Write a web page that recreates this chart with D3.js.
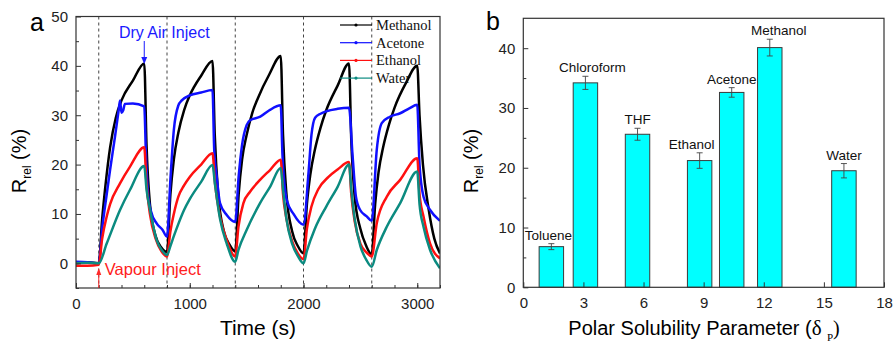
<!DOCTYPE html>
<html>
<head>
<meta charset="utf-8">
<script src="https://cdn.jsdelivr.net/npm/d3@7"></script>
<style>
  body { margin: 0; background: #fff; }
  svg { display: block; }
  .sans { font-family: "Liberation Sans", Arial, sans-serif; }
  .serif { font-family: "Liberation Serif", "Times New Roman", serif; }
</style>
</head>
<body>
<svg id="chart" width="893" height="342"></svg>
<script>
// ---- panel a data: [time (s), Rrel (%)]
const methanol = [
  [0, 0], [100, 0.2], [200, 0],
  [230, 9], [260, 16], [300, 23.5], [350, 29.5], [400, 33], [500, 37], [600, 40.5],
  [620, 24], [650, 12], [700, 5.5], [750, 3.2], [800, 2.3],
  [830, 14], [860, 21], [900, 26.5], [950, 31], [1000, 34], [1100, 38], [1200, 41],
  [1220, 26], [1250, 14], [1300, 6.5], [1350, 3.8], [1400, 2.4],
  [1430, 14], [1460, 21], [1500, 26], [1550, 30.5], [1600, 33.5], [1700, 38.3], [1800, 42],
  [1820, 26], [1850, 14], [1900, 6.5], [1950, 3.5], [2000, 2],
  [2030, 12], [2060, 18], [2100, 23], [2150, 27.5], [2200, 31], [2300, 36], [2400, 40.5],
  [2420, 25], [2450, 13.5], [2500, 7], [2550, 3.6], [2600, 1.8],
  [2630, 12], [2660, 18.5], [2700, 23.5], [2750, 28], [2800, 31.5], [2900, 36.5], [3000, 40],
  [3020, 30], [3050, 20], [3100, 11], [3150, 5], [3200, 2]
];
const acetone = [
  [0, 0.3], [100, 0.2], [200, 0],
  [230, 7], [270, 14], [300, 19], [343, 25.7], [375, 31], [387, 33], [400, 30.5], [415, 31], [430, 32.3], [500, 32.4], [600, 31.8],
  [615, 22], [636, 13.5], [660, 10.5], [709, 8.1], [760, 6.8], [800, 5.4],
  [830, 17], [860, 27], [900, 32], [930, 33], [1000, 34], [1100, 34.6], [1200, 35.1],
  [1215, 23], [1237, 17.6], [1266, 12.2], [1325, 9.8], [1400, 8.4],
  [1430, 17.6], [1460, 24], [1500, 28], [1530, 29], [1620, 29.7], [1700, 31], [1800, 32],
  [1815, 22], [1853, 12.8], [1912, 10], [2000, 7.8],
  [2043, 18], [2070, 26], [2102, 29.5], [2150, 30.3], [2200, 30.8], [2300, 31.3], [2400, 31.5],
  [2432, 21.6], [2461, 13.5], [2498, 10.8], [2556, 9.5], [2600, 8.6],
  [2644, 23], [2688, 28.4], [2760, 29.7], [2850, 30.4], [2930, 31.4], [3000, 32.1],
  [3020, 20], [3055, 13.5], [3113, 10.8], [3200, 8.6]
];
const ethanol = [
  [0, -0.5], [100, -0.5], [200, -0.3],
  [230, 5], [270, 9.5], [300, 12], [387, 16.2], [475, 19.6], [600, 23.5],
  [620, 16], [650, 10], [700, 5], [750, 2.5], [800, 1.4],
  [830, 6.5], [860, 10], [900, 13.5], [950, 15.8], [1000, 17.5], [1100, 20], [1200, 22.3],
  [1222, 16.2], [1266, 9.5], [1325, 4.7], [1400, 1.4],
  [1428, 7.4], [1472, 12.2], [1530, 14.5], [1618, 16.9], [1706, 18.9], [1800, 21],
  [1820, 14], [1850, 9], [1900, 4.5], [1950, 2], [2000, 0.8],
  [2030, 7], [2070, 11.5], [2130, 15], [2220, 17.5], [2300, 19], [2400, 20.5],
  [2420, 14], [2450, 8.5], [2500, 4], [2550, 2.3], [2600, 1.4],
  [2644, 8.1], [2732, 13.5], [2850, 16.9], [3000, 21.3],
  [3020, 14], [3055, 9.5], [3113, 4], [3200, 1]
];
const water = [
  [0, 0], [100, 0.1], [200, 0],
  [270, 4], [387, 10.8], [475, 14.9], [600, 19.7],
  [620, 15], [651, 10.8], [709, 4.7], [760, 2.5], [800, 1.7],
  [830, 3.5], [860, 5.5], [900, 8], [950, 10.8], [1000, 13], [1100, 16.5], [1200, 19.9],
  [1222, 16], [1266, 9], [1325, 4], [1400, 0.3],
  [1428, 2.7], [1501, 6.8], [1618, 12.2], [1706, 15.5], [1800, 19.3],
  [1820, 15], [1850, 9], [1900, 4], [1950, 1.5], [2000, 0],
  [2030, 2.5], [2100, 7], [2200, 11.5], [2300, 15.5], [2400, 20],
  [2420, 15], [2450, 9], [2500, 3.5], [2550, 0.8], [2600, -0.7],
  [2644, 2.7], [2732, 7.4], [2850, 12.2], [3000, 18.6],
  [3020, 12], [3055, 7.4], [3113, 2.7], [3200, -1]
];
const vapourTimes = [200, 800, 1400, 2000, 2600];

// ---- panel b data
const solvents = ['Toluene', 'Chloroform', 'THF', 'Ethanol', 'Acetone', 'Methanol', 'Water'];
const deltaP = [1.4, 3.1, 5.7, 8.8, 10.4, 12.3, 16.0];
const response = [6.8, 34.2, 25.6, 21.2, 32.6, 40.1, 19.5];
const responseErr = [0.5, 1.1, 1.0, 1.3, 0.8, 1.4, 1.2];

// label nudges (px) so names sit like the original
const labelDx = [-3, 7, 0, -8, 0, 9, 0];

const svg = d3.select('#chart');
const axisColor = '#333';

// =============== panel a ===============
const xa = d3.scaleLinear().domain([0, 3200]).range([76, 440]);
const ya = d3.scaleLinear().domain([-5, 50]).range([288, 16.5]);

const pa = svg.append('g');

pa.append('clipPath').attr('id', 'clipA')
  .append('rect')
  .attr('x', xa.range()[0]).attr('y', ya.range()[1])
  .attr('width', xa.range()[1] - xa.range()[0])
  .attr('height', ya.range()[0] - ya.range()[1]);

// dashed injection lines
pa.selectAll('line.inject')
  .data(vapourTimes)
  .enter()
  .append('line')
  .attr('class', 'inject')
  .attr('x1', d => xa(d)).attr('x2', d => xa(d))
  .attr('y1', ya.range()[1]).attr('y2', ya.range()[0])
  .attr('stroke', '#444')
  .attr('stroke-width', 1)
  .attr('stroke-dasharray', '3,3');

const series = [
  {name: 'Methanol', color: '#000000', data: methanol},
  {name: 'Acetone', color: '#1010ff', data: acetone},
  {name: 'Ethanol', color: '#ff1010', data: ethanol},
  {name: 'Water', color: '#0b8b80', data: water}
];

const line = d3.line()
  .x(d => xa(d[0]))
  .y(d => ya(d[1]))
  .curve(d3.curveMonotoneX);

pa.append('g').attr('clip-path', 'url(#clipA)')
  .selectAll('path.series')
  .data(series)
  .enter()
  .append('path')
  .attr('class', 'series')
  .attr('d', d => line(d.data))
  .attr('fill', 'none')
  .attr('stroke', d => d.color)
  .attr('stroke-width', 2.5)
  .attr('stroke-linejoin', 'round');

// frame
pa.append('rect')
  .attr('x', xa.range()[0]).attr('y', ya.range()[1])
  .attr('width', xa.range()[1] - xa.range()[0])
  .attr('height', ya.range()[0] - ya.range()[1])
  .attr('fill', 'none').attr('stroke', axisColor).attr('stroke-width', 1.2);

// axes (ticks inward)
pa.append('g')
  .attr('class', 'sans')
  .attr('transform', 'translate(0,' + ya.range()[0] + ')')
  .call(d3.axisBottom(xa).tickValues([0, 1000, 2000, 3000]).tickFormat(d3.format('d'))
    .tickSizeInner(-5).tickSizeOuter(0).tickPadding(10));
pa.append('g')
  .attr('transform', 'translate(0,' + ya.range()[0] + ')')
  .call(d3.axisBottom(xa).tickValues(d3.range(0, 3201, 200)).tickSizeInner(-3).tickSizeOuter(0).tickFormat(''));
pa.append('g')
  .attr('class', 'sans')
  .attr('transform', 'translate(' + xa.range()[0] + ',0)')
  .call(d3.axisLeft(ya).tickValues([0, 10, 20, 30, 40, 50]).tickSizeInner(-5).tickSizeOuter(0).tickPadding(8));
pa.append('g')
  .attr('transform', 'translate(' + xa.range()[0] + ',0)')
  .call(d3.axisLeft(ya).tickValues([-5, 5, 15, 25, 35, 45]).tickSizeInner(-3).tickSizeOuter(0).tickFormat(''));

// legend
const legA = pa.append('g');
const legItem = legA.selectAll('g.leg')
  .data(series)
  .enter()
  .append('g')
  .attr('class', 'leg')
  .attr('transform', (d, i) => 'translate(340,' + (25 + i * 17.7) + ')');
legItem.append('line')
  .attr('x1', 0).attr('x2', 32).attr('y1', 0).attr('y2', 0)
  .attr('stroke', d => d.color).attr('stroke-width', 1.2);
legItem.append('circle')
  .attr('cx', 16).attr('cy', 0).attr('r', 1.6)
  .attr('fill', d => d.color);
legItem.append('text')
  .attr('class', 'serif')
  .attr('x', 36).attr('y', 5)
  .attr('font-size', 14.5)
  .attr('fill', '#111')
  .text(d => d.name);

// annotations
const dryX = xa(600);
pa.append('text')
  .attr('class', 'sans')
  .attr('x', dryX + 20).attr('y', 38)
  .attr('text-anchor', 'middle')
  .attr('font-size', 16)
  .attr('fill', '#1a1aff')
  .text('Dry Air Inject');
pa.append('line')
  .attr('x1', dryX).attr('x2', dryX).attr('y1', 41).attr('y2', 58)
  .attr('stroke', '#1a1aff').attr('stroke-width', 1);
pa.append('path')
  .attr('d', `M${dryX - 3},57 L${dryX + 3},57 L${dryX},64 Z`)
  .attr('fill', '#1a1aff');

const vapX = xa(200);
pa.append('line')
  .attr('x1', vapX).attr('x2', vapX).attr('y1', ya.range()[0]).attr('y2', 274)
  .attr('stroke', '#ff2a2a').attr('stroke-width', 1);
pa.append('path')
  .attr('d', `M${vapX - 2.5},275 L${vapX + 2.5},275 L${vapX},268 Z`)
  .attr('fill', '#ff2a2a');
pa.append('text')
  .attr('class', 'sans')
  .attr('x', vapX + 6).attr('y', 275)
  .attr('font-size', 16.5)
  .attr('fill', '#ff2020')
  .text('Vapour Inject');

// titles
pa.append('text')
  .attr('class', 'sans')
  .attr('x', xa(1600)).attr('y', 335)
  .attr('text-anchor', 'middle')
  .attr('font-size', 21)
  .text('Time (s)');

const yTitleA = pa.append('text')
  .attr('class', 'sans')
  .attr('transform', 'translate(26,161) rotate(-90)')
  .attr('text-anchor', 'middle')
  .attr('font-size', 20);
yTitleA.append('tspan').text('R');
yTitleA.append('tspan').attr('font-size', 12).attr('dy', 5).text('rel');
yTitleA.append('tspan').attr('dy', -5).text(' (%)');

pa.append('text')
  .attr('class', 'sans')
  .attr('x', 30).attr('y', 31)
  .attr('font-size', 25)
  .text('a');

// =============== panel b ===============
const xb = d3.scaleLinear().domain([0, 18]).range([523.3, 884]);
const yb = d3.scaleLinear().domain([0, 45]).range([287.3, 18.3]);
const barW = xb(1.22) - xb(0);

const pb = svg.append('g');

const bars = solvents.map((s, i) => ({name: s, x: deltaP[i], v: response[i], e: responseErr[i], dx: labelDx[i]}));

pb.selectAll('rect.bar')
  .data(bars)
  .enter()
  .append('rect')
  .attr('class', 'bar')
  .attr('x', d => xb(d.x) - barW / 2)
  .attr('width', barW)
  .attr('y', d => yb(d.v))
  .attr('height', d => yb(0) - yb(d.v))
  .attr('fill', '#00ffff')
  .attr('stroke', '#3a3a3a')
  .attr('stroke-width', 1);

// error bars
const err = pb.selectAll('g.err')
  .data(bars)
  .enter()
  .append('g')
  .attr('class', 'err')
  .attr('stroke', '#444')
  .attr('stroke-width', 0.9);
err.append('line')
  .attr('x1', d => xb(d.x)).attr('x2', d => xb(d.x))
  .attr('y1', d => yb(d.v - d.e)).attr('y2', d => yb(d.v + d.e));
err.append('line')
  .attr('x1', d => xb(d.x) - 3).attr('x2', d => xb(d.x) + 3)
  .attr('y1', d => yb(d.v + d.e)).attr('y2', d => yb(d.v + d.e));
err.append('line')
  .attr('x1', d => xb(d.x) - 3).attr('x2', d => xb(d.x) + 3)
  .attr('y1', d => yb(d.v - d.e)).attr('y2', d => yb(d.v - d.e));

// bar labels
pb.selectAll('text.lab')
  .data(bars)
  .enter()
  .append('text')
  .attr('class', 'lab sans')
  .attr('x', d => xb(d.x) + d.dx)
  .attr('y', d => yb(d.v + d.e) - 4)
  .attr('text-anchor', 'middle')
  .attr('font-size', 13.5)
  .attr('fill', '#111')
  .text(d => d.name);

// frame
pb.append('rect')
  .attr('x', xb.range()[0]).attr('y', yb.range()[1])
  .attr('width', xb.range()[1] - xb.range()[0])
  .attr('height', yb.range()[0] - yb.range()[1])
  .attr('fill', 'none').attr('stroke', axisColor).attr('stroke-width', 1.2);

pb.append('g')
  .attr('class', 'sans')
  .attr('transform', 'translate(0,' + yb.range()[0] + ')')
  .call(d3.axisBottom(xb).tickValues([0, 3, 6, 9, 12, 15, 18]).tickSizeInner(-5).tickSizeOuter(0).tickPadding(10));
pb.append('g')
  .attr('class', 'sans')
  .attr('transform', 'translate(' + xb.range()[0] + ',0)')
  .call(d3.axisLeft(yb).tickValues([0, 10, 20, 30, 40]).tickSizeInner(-5).tickSizeOuter(0).tickPadding(8));
pb.append('g')
  .attr('transform', 'translate(' + xb.range()[0] + ',0)')
  .call(d3.axisLeft(yb).tickValues([5, 15, 25, 35]).tickSizeInner(-3).tickSizeOuter(0).tickFormat(''));

const xTitleB = pb.append('text')
  .attr('x', 704).attr('y', 335)
  .attr('text-anchor', 'middle')
  .attr('font-size', 20);
xTitleB.append('tspan').attr('class', 'sans').text('Polar Solubility Parameter (');
xTitleB.append('tspan').attr('class', 'serif').attr('font-size', 21).text('\u03b4  ');
xTitleB.append('tspan').attr('class', 'serif').attr('font-size', 11).attr('dy', 6).text('P');
xTitleB.append('tspan').attr('class', 'serif').attr('dy', -6).text(')');

const yTitleB = pb.append('text')
  .attr('class', 'sans')
  .attr('transform', 'translate(478,161) rotate(-90)')
  .attr('text-anchor', 'middle')
  .attr('font-size', 20);
yTitleB.append('tspan').text('R');
yTitleB.append('tspan').attr('font-size', 12).attr('dy', 5).text('rel');
yTitleB.append('tspan').attr('dy', -5).text(' (%)');

pb.append('text')
  .attr('class', 'sans')
  .attr('x', 486).attr('y', 30)
  .attr('font-size', 25)
  .text('b');

// shared axis styling
svg.selectAll('.domain').remove();
svg.selectAll('.tick line').attr('stroke', axisColor);
svg.selectAll('.tick text').attr('font-size', 15).attr('fill', '#222');
</script>
</body>
</html>
